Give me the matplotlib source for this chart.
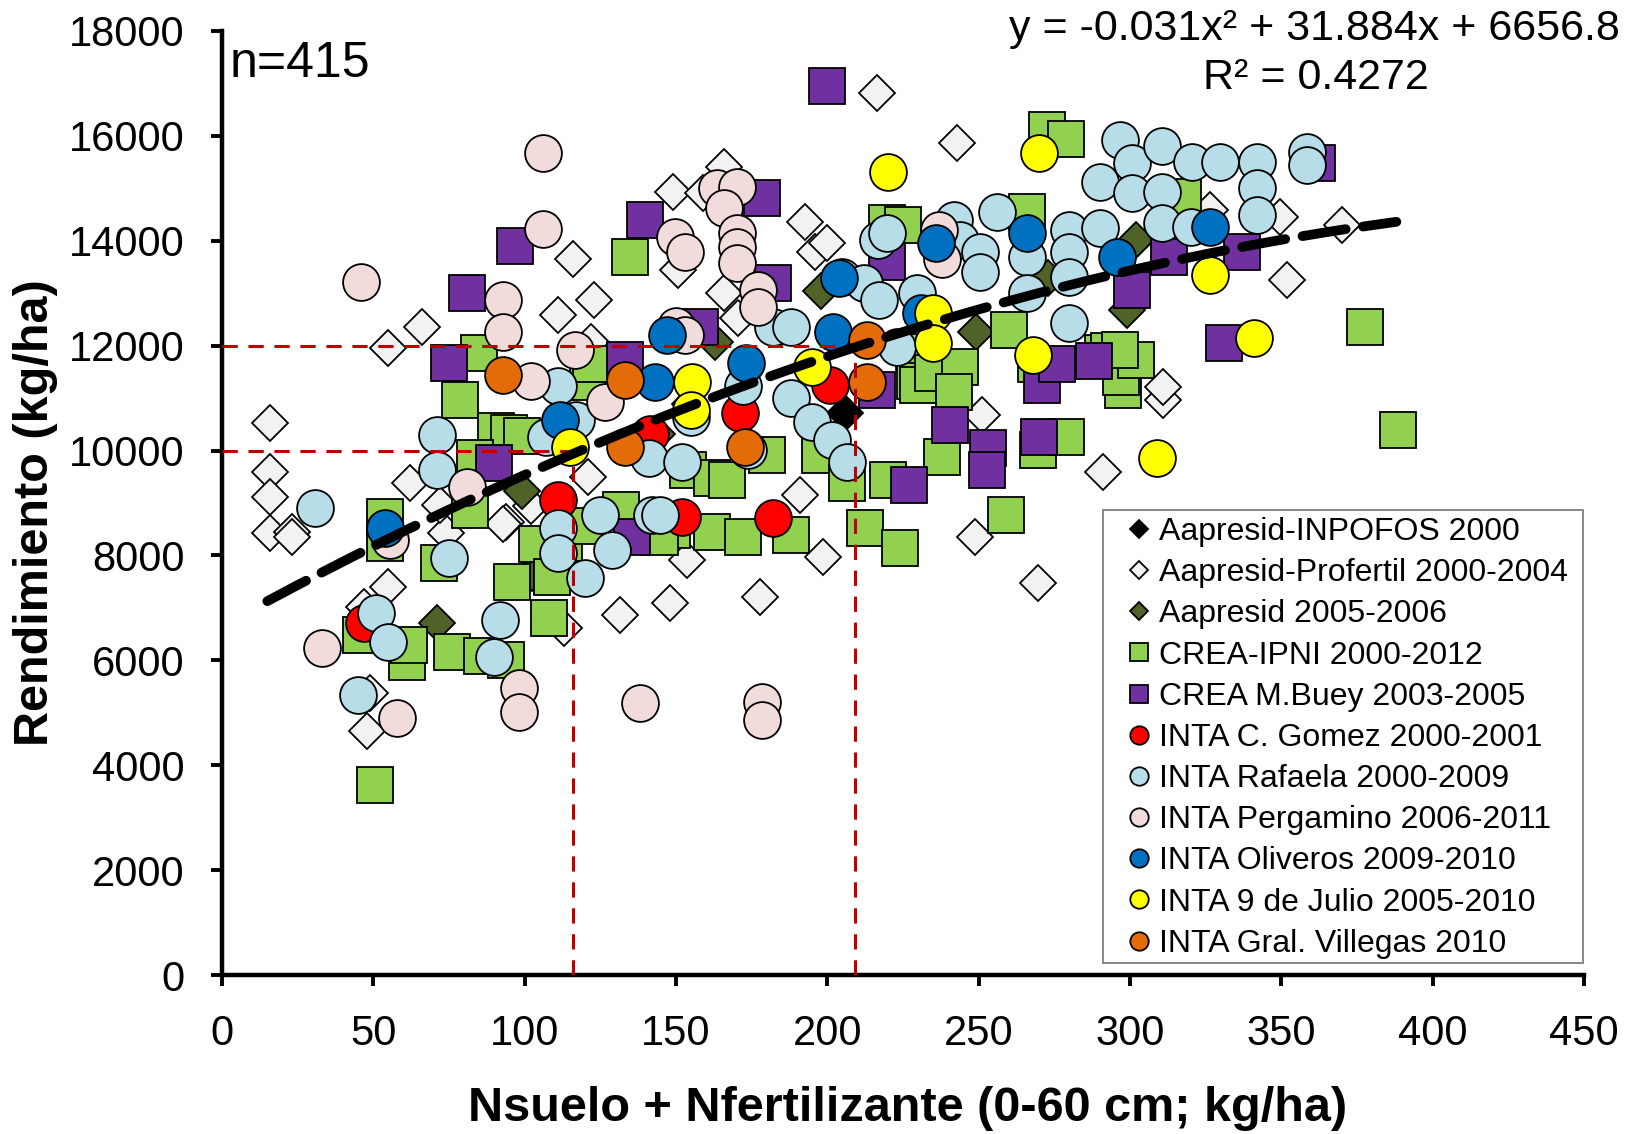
import numpy as np
import matplotlib
matplotlib.use("Agg")
import matplotlib.pyplot as plt
from matplotlib.patches import Rectangle

plt.rcParams["font.family"] = ["Liberation Sans", "DejaVu Sans"]

# ── data ─────────────────────────────────────────────────────────────────────
inpofos_x = [206]
inpofos_y = [10720]

profertil_x = [16, 16, 16, 16, 23, 23, 55, 66, 62, 55, 49, 47, 48, 74, 72, 94,
               111, 116, 123, 121, 113, 131.5, 148, 153.6, 149, 150.7, 159, 166,
               166, 170.5, 177.7, 191, 192.6, 196, 200, 198.6, 216.4, 243, 248.8,
               251, 269.6, 291, 311, 311, 326.4, 349.5, 352, 370, 102, 122, 93,
               154.6, 136]
profertil_y = [10520, 9590, 9110, 8430, 8450, 8350, 11960, 12360, 9380, 7400,
               5380, 7020, 4650, 8430, 8960, 8640, 12590, 13650, 12870, 9500,
               6620, 6860, 7090, 7910, 14930, 13440, 14910, 15410, 13000, 12530,
               7210, 9150, 14360, 13790, 13960, 7970, 16820, 15870, 8350, 10680,
               7470, 9590, 10960, 11210, 14590, 14450, 13250, 14300, 8940, 12060,
               8600, 10880, 10130]

aapresid_x = [71, 99, 102.5, 143.6, 163, 198, 249, 273, 302, 299]
aapresid_y = [6720, 9220, 7670, 10320, 12070, 13050, 12260, 13290, 14020, 12680]

ipni_x = [50.7, 46, 54, 54, 61, 61.8, 71.7, 76, 78.6, 85, 82, 86, 94, 90.5, 95,
          99, 95.8, 104, 108, 109, 113, 121, 122, 134.8, 132, 144, 148.7, 144.7,
          154, 162, 167, 162, 172, 180, 188, 197.6, 206.5, 212.4, 224, 220,
          219.7, 225, 228.6, 229, 230, 235, 244, 242, 238, 259, 260, 266, 269,
          269.6, 272.6, 279, 279, 291, 293, 297.7, 297, 302, 296.7, 317.5, 377.6,
          388.5, 83.6, 119.6]
ipni_y = [3620, 6480, 8730, 8240, 5970, 6290, 7860, 6160, 10960, 11860, 8870,
          6090, 6010, 10380, 10340, 10280, 7490, 8210, 6810, 7590, 8240, 11310,
          11650, 13690, 8870, 8540, 8490, 8350, 9630, 9480, 9440, 8450, 8350,
          9920, 8390, 9920, 9380, 8520, 8140, 9440, 14340, 14300, 11870, 11330,
          11250, 11480, 11590, 11120, 9880, 8770, 12300, 14550, 11650, 10010,
          16110, 15940, 10260, 11860, 11900, 11160, 11400, 11730, 11920, 14840,
          12360, 10390, 9860, 8560]

mbuey_x = [200, 81, 75, 96.8, 139.8, 178.4, 133, 158, 182, 90, 135.5, 216.4,
           227, 240.5, 253, 252.7, 270, 271, 276, 288, 300.7, 313, 337, 331,
           361.8, 219.7]
mbuey_y = [16950, 13000, 11670, 13900, 14400, 14820, 11730, 12350, 13200, 9760,
           8350, 11160, 9340, 10490, 10050, 9630, 10260, 11250, 11650, 11700,
           13060, 13690, 13790, 12050, 15480, 13600]

gomez_x = [111, 152, 182, 171, 201, 141.5, 47]
gomez_y = [9060, 8730, 8710, 10720, 11250, 10320, 6710]

rafaela_x = [30.7, 45, 51, 55, 71, 71, 75, 91.8, 90, 111, 107, 111, 111, 117,
             120, 125, 129, 142, 141, 152, 155, 172, 173.8, 182, 188, 188, 195,
             201.5, 206.5, 205, 212, 217, 216.7, 219.7, 223, 229.6, 242, 244,
             250.4, 250.4, 256, 266, 266, 280, 280, 280, 280, 290, 290, 296.7,
             300.7, 300.7, 310.6, 310.6, 310.6, 320, 320.5, 329.7, 342, 342, 342,
             358.5, 358.5, 144.7]
rafaela_y = [8900, 5340, 6900, 6350, 10300, 9630, 7950, 6770, 6060, 11230,
             10260, 8520, 8050, 10580, 7570, 8770, 8100, 8770, 9860, 9780, 10640,
             11230, 10010, 12360, 12360, 11000, 10550, 10200, 9780, 13310, 13200,
             12870, 14020, 14150, 11980, 13000, 14400, 14020, 13790, 13400, 14550,
             13690, 13000, 14200, 13790, 13310, 12430, 14240, 15120, 15920, 15480,
             14910, 15810, 14930, 14340, 14260, 15500, 15500, 15500, 15010, 14490,
             15690, 15450, 8770]

pergamino_x = [46, 33, 57.8, 55.5, 81, 93, 93, 102, 98, 98, 106, 106, 116.7,
               126.5, 138, 149.7, 153, 150, 153, 163.5, 170, 166, 170, 170, 170,
               177, 177, 178.4, 178.4, 237, 238]
pergamino_y = [13220, 6240, 4900, 8300, 9300, 12870, 12260, 11330, 5470, 5020,
               15670, 14220, 11920, 10930, 5190, 14070, 13790, 12380, 12200,
               15010, 15030, 14630, 14150, 13880, 13580, 13060, 12740, 5210, 4860,
               14200, 13650]

oliveros_x = [54, 111.7, 143, 147, 173, 204, 202, 231, 236, 266, 295.7, 326.4]
oliveros_y = [8520, 10580, 11310, 12200, 11670, 13290, 12260, 12620, 13960,
              14150, 13690, 14260]

julio_x = [115, 155.3, 155, 195, 220, 235, 235, 270, 268, 309, 326.4, 341]
julio_y = [10070, 11310, 10780, 11590, 15310, 12620, 12050, 15670, 11820, 9860,
           13350, 12150]

villegas_x = [93, 133, 133, 172.8, 213, 213]
villegas_y = [11440, 11350, 10070, 10070, 12110, 11310]

# trend line coefficients as printed on the chart
trend_coef = [-0.031, 31.884, 6656.8]
trend_range = [15, 388]

# reference guides: yield targets and the N they need
guide_yield = [10000, 12000]
guide_n = [116, 209]

series = [
    ("Aapresid-INPOFOS 2000",        inpofos_x,   inpofos_y,   "D", "#000000"),
    ("Aapresid-Profertil 2000-2004", profertil_x, profertil_y, "D", "#F2F2F2"),
    ("Aapresid 2005-2006",           aapresid_x,  aapresid_y,  "D", "#4F6228"),
    ("CREA-IPNI 2000-2012",          ipni_x,      ipni_y,      "s", "#92D050"),
    ("CREA M.Buey 2003-2005",        mbuey_x,     mbuey_y,     "s", "#7030A0"),
    ("INTA C. Gomez 2000-2001",      gomez_x,     gomez_y,     "o", "#FF0000"),
    ("INTA Rafaela 2000-2009",       rafaela_x,   rafaela_y,   "o", "#B7DEE8"),
    ("INTA Pergamino 2006-2011",     pergamino_x, pergamino_y, "o", "#F2DCDB"),
    ("INTA Oliveros 2009-2010",      oliveros_x,  oliveros_y,  "o", "#0070C0"),
    ("INTA 9 de Julio 2005-2010",    julio_x,     julio_y,     "o", "#FFFF00"),
    ("INTA Gral. Villegas 2010",     villegas_x,  villegas_y,  "o", "#E36C09"),
]

MARKER_SIZE = {"D": 18.8, "s": 26.5, "o": 26.5}

# ── figure ───────────────────────────────────────────────────────────────────
W, H = 1627, 1134
fig = plt.figure(figsize=(W / 100, H / 100), dpi=100)
ax = fig.add_axes([0.1364, 0.1402, 0.8372, 0.8325])

handles = []
for i, (label, xs, ys, marker, color) in enumerate(series):
    h, = ax.plot(xs, ys, linestyle="none", marker=marker,
                 markersize=MARKER_SIZE[marker], markerfacecolor=color,
                 markeredgecolor="black", markeredgewidth=1.3,
                 label=label, zorder=3 + i * 0.01, clip_on=False)
    handles.append(h)

# red guides
for yv, xv in zip(guide_yield, guide_n):
    ax.plot([0, xv], [yv, yv], color="#C00000", linewidth=2.2,
            dashes=(5, 3.5), zorder=5)
    ax.plot([xv, xv], [0, yv], color="#C00000", linewidth=2.2,
            dashes=(5, 3.5), zorder=5)

# polynomial trend line
tx = np.linspace(trend_range[0], trend_range[1], 200)
ax.plot(tx, np.polyval(trend_coef, tx), color="black", linewidth=7,
        dashes=(4.5, 1.8), dash_capstyle="round", zorder=6)

# ── axes styling ─────────────────────────────────────────────────────────────
ax.set_xlim(0, 450)
ax.set_ylim(0, 18000)
ax.set_xticks(np.arange(0, 451, 50))
ax.set_yticks(np.arange(0, 18001, 2000))
for side in ("top", "right"):
    ax.spines[side].set_visible(False)
for side in ("left", "bottom"):
    ax.spines[side].set_linewidth(3.2)
ax.tick_params(axis="both", direction="out", length=8, width=2.8,
               labelsize=30)
ax.tick_params(axis="y", pad=19)
ax.tick_params(axis="x", pad=20)

fig.text(0.022, 0.5476, "Rendimiento (kg/ha)", rotation=90, fontsize=35,
         fontweight="bold", ha="center", va="center")
fig.text(0.5577, 0.0229, "Nsuelo + Nfertilizante (0-60 cm; kg/ha)",
         fontsize=35, fontweight="bold", ha="center", va="center")

fig.text(0.1414, 0.9436, "n=415", fontsize=36, ha="left", va="center")
fig.text(0.9955, 0.9744, "y = -0.031x² + 31.884x + 6656.8", fontsize=31,
         ha="right", va="center")
fig.text(0.809, 0.931, "R² = 0.4272", fontsize=31, ha="center", va="center")

# ── legend (frame drawn separately to get Excel-like padding) ────────────────
ax.add_patch(Rectangle((1103 / W, 1 - 963 / H), 480 / W, 453 / H,
                       transform=fig.transFigure, facecolor="white",
                       edgecolor="#7F7F7F", linewidth=1.3,
                       zorder=9, clip_on=False))
leg = ax.legend(handles=handles, loc="upper right",
                bbox_to_anchor=(1575 / W, 1 - 510 / H),
                bbox_transform=fig.transFigure, fontsize=23,
                markerscale=0.5, frameon=False,
                borderpad=0.22, handlelength=1.0, handletextpad=0.12,
                labelspacing=0.35, borderaxespad=0)
leg.set_zorder(10)

fig.savefig("out.png", dpi=100)
plt.close(fig)
